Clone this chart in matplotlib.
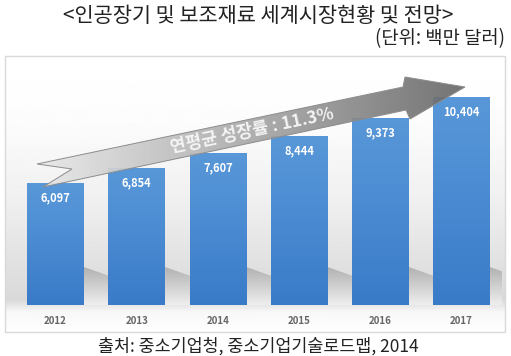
import numpy as np
import matplotlib
matplotlib.use("Agg")
import matplotlib.pyplot as plt
from matplotlib.patches import Rectangle, Polygon
from matplotlib.colors import LinearSegmentedColormap

plt.rcParams['font.family'] = ['Noto Sans CJK KR', 'DejaVu Sans']

# data
years = ['2012', '2013', '2014', '2015', '2016', '2017']
values = [6097, 6854, 7607, 8444, 9373, 10404]
title = '<인공장기 및 보조재료 세계시장현황 및 전망>'
unit = '(단위: 백만 달러)'
source = '출처: 중소기업청, 중소기업기술로드맵, 2014'
growth = '연평균 성장률 : 11.3%'

W, H = 511, 356
fig = plt.figure(figsize=(W / 100, H / 100), dpi=100)

# background box (pixel coords)
bg = fig.add_axes([0, 0, 1, 1], zorder=0)
bg.set_xlim(0, W)
bg.set_ylim(H, 0)
bg.axis('off')
box = Rectangle((5, 56), 500, 276, facecolor='none', edgecolor='#d9d9d9', lw=1.0)
bg.add_patch(box)
ys = np.arange(56, 333)
shade = np.interp(ys, [56, 120, 200, 300, 312, 332], [1.0, 0.99, 0.94, 0.85, 0.97, 1.0])
grad = np.repeat(shade[:, None], 2, axis=1)
im = bg.imshow(grad, cmap='gray', vmin=0, vmax=1, extent=(5, 505, 332, 56),
               aspect='auto', zorder=0)
im.set_clip_path(box)

# bars
ax = fig.add_axes([15 / W, 51 / H, 487 / W, 240 / H], zorder=1)
ax.patch.set_alpha(0)
x = np.arange(len(years))
bw = 0.70
ymax = 12000

shadow_cmap = LinearSegmentedColormap.from_list('sh', ['#eeeeee', '#b0b0b0'])
for i, v in enumerate(values):
    xr = i + bw / 2
    sp = Polygon([(xr, 0), (xr, 1900), (xr + 0.45, 1250), (xr + 0.45, 0)],
                 closed=True, facecolor='none', edgecolor='none')
    ax.add_patch(sp)
    sim = ax.imshow(np.linspace(0, 1, 50)[:, None], cmap=shadow_cmap,
                    extent=(xr, xr + 0.45, 0, 1900), origin='lower',
                    aspect='auto', zorder=1)
    sim.set_clip_path(sp)

bars = ax.bar(x, values, width=bw, color='none', edgecolor='none', zorder=2)
bar_cmap = LinearSegmentedColormap.from_list('b', ['#3a7bc8', '#4a8ad2', '#5898d8'])
for b in bars:
    bx, by = b.get_x(), b.get_y()
    bim = ax.imshow(np.linspace(0, 1, 100)[:, None], cmap=bar_cmap,
                    extent=(bx, bx + b.get_width(), by, by + b.get_height()),
                    origin='lower', aspect='auto', zorder=2)
    bim.set_clip_path(b)

for i, v in enumerate(values):
    ax.text(i, v - 750, f'{v:,}', ha='center', va='center', color='white',
            fontsize=8, fontweight='bold', zorder=3)

ax.set_xlim(-0.5, len(years) - 0.5)
ax.set_ylim(0, ymax)
ax.set_xticks(x)
ax.set_xticklabels(years, fontsize=7, fontweight='bold', color='#666666')
ax.tick_params(axis='x', length=0, pad=8)
ax.set_yticks([])
for s in ax.spines.values():
    s.set_visible(False)

# growth arrow overlay (pixel coords)
ov = fig.add_axes([0, 0, 1, 1], zorder=2)
ov.set_xlim(0, W)
ov.set_ylim(H, 0)
ov.axis('off')
ov.patch.set_alpha(0)
arrow_pts = [(37, 164), (403, 87), (405, 77), (465, 87), (410, 119),
             (406, 110), (43, 187), (72, 169)]
arr = Polygon(arrow_pts, closed=True, facecolor='none', edgecolor='#8c8c8c', lw=0.7, zorder=3)
ov.add_patch(arr)
arrow_cmap = LinearSegmentedColormap.from_list('a', ['#e8e8e8', '#a8a8a8', '#686868'])
aim = ov.imshow(np.linspace(0, 1, 200)[None, :], cmap=arrow_cmap,
                extent=(37, 465, 187, 77), aspect='auto', alpha=0.92, zorder=2)
aim.set_clip_path(arr)
ov.text(252, 131, growth, rotation=11.9, rotation_mode='anchor', ha='center',
        va='center', color='#f4f4f4', fontsize=12.5, fontweight='bold', zorder=4)

# titles
fig.text(258 / W, 1 - 16 / H, title, ha='center', va='center', fontsize=15,
         fontweight='light', color='#222222')
fig.text(505 / W, 1 - 39 / H, unit, ha='right', va='center', fontsize=13.5,
         fontweight='light', color='#222222')
fig.text(258 / W, 1 - 346 / H, source, ha='center', va='center', fontsize=12.5,
         fontweight='light', color='#222222')

fig.savefig('out.png', dpi=100)
